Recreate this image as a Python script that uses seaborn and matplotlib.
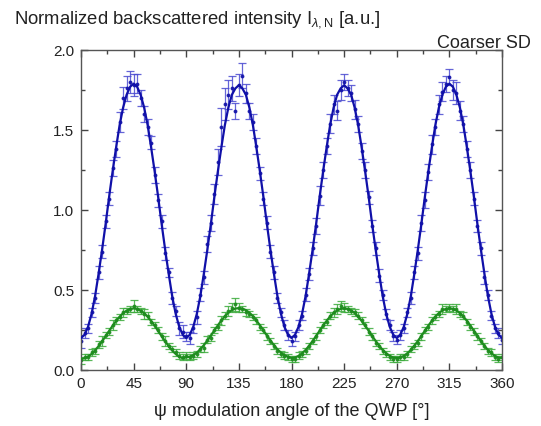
import numpy as np
import matplotlib
matplotlib.use('Agg')
import matplotlib.pyplot as plt
import seaborn as sns
from matplotlib.ticker import MultipleLocator

# angle of the QWP (deg), one point every 3 deg
psi = np.arange(0, 361, 3)

# measured intensity, blue series
blue_val = [0.18,0.23,0.26,0.36,0.45,0.61,0.74,0.93,1.07,1.26,1.38,1.55,1.70,1.76,1.80,1.78,1.79,1.70,1.60,1.52,1.42,1.22,1.06,0.93,0.73,0.61,0.45,0.37,0.26,0.24,
            0.21,0.20,0.26,0.33,0.47,0.58,0.79,0.92,1.10,1.30,1.52,1.66,1.72,1.76,1.62,1.78,1.84,1.73,1.62,1.55,1.40,1.23,1.07,0.92,0.74,0.61,0.45,0.36,0.28,0.22,
            0.18,0.21,0.28,0.34,0.47,0.60,0.76,0.90,1.09,1.25,1.40,1.54,1.66,1.62,1.75,1.80,1.76,1.73,1.63,1.54,1.37,1.25,1.08,0.90,0.76,0.59,0.47,0.35,0.28,0.21,
            0.19,0.22,0.26,0.36,0.45,0.61,0.73,0.92,1.06,1.24,1.41,1.52,1.66,1.74,1.79,1.83,1.75,1.73,1.62,1.54,1.38,1.25,1.07,0.90,0.76,0.58,0.47,0.34,0.26,0.23,
            0.19]
blue_err = [0.04,0.03,0.03,0.03,0.03,0.04,0.04,0.04,0.04,0.05,0.05,0.06,0.07,0.08,0.07,0.07,0.06,0.05,0.05,0.05,0.04,0.05,0.04,0.04,0.04,0.03,0.04,0.03,0.04,0.04,
            0.03,0.04,0.03,0.04,0.04,0.04,0.05,0.05,0.06,0.08,0.12,0.10,0.09,0.08,0.05,0.07,0.08,0.06,0.05,0.05,0.05,0.04,0.04,0.04,0.04,0.04,0.03,0.03,0.03,0.03,
            0.03,0.03,0.03,0.03,0.04,0.04,0.04,0.05,0.06,0.05,0.05,0.06,0.06,0.06,0.06,0.05,0.05,0.05,0.06,0.05,0.05,0.05,0.04,0.04,0.04,0.04,0.03,0.03,0.03,0.03,
            0.03,0.03,0.03,0.03,0.04,0.04,0.04,0.05,0.05,0.05,0.06,0.05,0.06,0.06,0.05,0.05,0.06,0.07,0.06,0.05,0.05,0.05,0.04,0.04,0.04,0.04,0.03,0.03,0.03,0.03,
            0.03]
blue_fit = [0.20,0.22,0.27,0.35,0.46,0.60,0.75,0.91,1.08,1.24,1.39,1.53,1.64,1.72,1.77,1.79,1.77,1.72,1.64,1.53,1.39,1.24,1.08,0.91,0.75,0.60,0.46,0.35,0.27,0.22,
            0.20,0.22,0.27,0.35,0.46,0.60,0.75,0.91,1.08,1.24,1.39,1.53,1.64,1.72,1.76,1.78,1.76,1.72,1.64,1.53,1.39,1.24,1.08,0.91,0.75,0.60,0.46,0.35,0.27,0.22,
            0.20,0.22,0.27,0.35,0.46,0.60,0.75,0.91,1.08,1.24,1.39,1.53,1.64,1.72,1.76,1.78,1.76,1.72,1.64,1.53,1.39,1.24,1.08,0.91,0.75,0.60,0.46,0.35,0.27,0.22,
            0.20,0.22,0.27,0.35,0.46,0.60,0.75,0.91,1.08,1.24,1.39,1.53,1.64,1.72,1.77,1.79,1.77,1.72,1.64,1.53,1.39,1.24,1.08,0.91,0.75,0.60,0.46,0.35,0.27,0.22,
            0.20]

# measured intensity, green series
green_val = [0.06,0.08,0.08,0.11,0.12,0.16,0.18,0.22,0.24,0.28,0.31,0.33,0.36,0.37,0.38,0.40,0.38,0.37,0.35,0.34,0.30,0.28,0.25,0.21,0.18,0.15,0.13,0.11,0.09,0.08,
             0.09,0.08,0.09,0.10,0.13,0.14,0.19,0.20,0.25,0.27,0.31,0.34,0.37,0.39,0.41,0.39,0.38,0.36,0.35,0.33,0.31,0.27,0.25,0.21,0.18,0.15,0.12,0.10,0.09,0.08,
             0.07,0.07,0.09,0.10,0.12,0.15,0.18,0.21,0.25,0.28,0.30,0.34,0.36,0.38,0.40,0.39,0.38,0.37,0.36,0.34,0.31,0.28,0.24,0.21,0.17,0.15,0.12,0.10,0.08,0.07,
             0.07,0.08,0.08,0.10,0.13,0.15,0.17,0.21,0.25,0.27,0.31,0.33,0.35,0.38,0.38,0.39,0.38,0.38,0.35,0.34,0.30,0.27,0.24,0.21,0.18,0.15,0.12,0.11,0.08,0.07,
             0.08]
green_err = [0.02,0.02,0.02,0.02,0.02,0.02,0.03,0.02,0.02,0.03,0.02,0.02,0.03,0.02,0.02,0.04,0.02,0.02,0.03,0.02,0.02,0.02,0.02,0.02,0.03,0.02,0.02,0.02,0.02,0.02,
             0.02,0.02,0.02,0.02,0.02,0.03,0.02,0.02,0.02,0.02,0.03,0.02,0.03,0.03,0.04,0.03,0.02,0.02,0.02,0.02,0.02,0.02,0.02,0.02,0.02,0.02,0.02,0.02,0.02,0.02,
             0.02,0.02,0.02,0.02,0.02,0.02,0.02,0.02,0.02,0.02,0.02,0.02,0.03,0.03,0.03,0.03,0.02,0.02,0.02,0.02,0.02,0.02,0.02,0.02,0.02,0.02,0.02,0.02,0.02,0.02,
             0.02,0.02,0.02,0.02,0.02,0.02,0.02,0.02,0.02,0.02,0.02,0.02,0.02,0.03,0.02,0.02,0.02,0.03,0.02,0.02,0.02,0.02,0.02,0.02,0.02,0.02,0.02,0.02,0.02,0.02,
             0.02]
green_fit = [0.070,0.073,0.084,0.100,0.122,0.149,0.179,0.211,0.244,0.276,0.306,0.333,0.355,0.371,0.382,0.385,0.382,0.371,0.355,0.333,0.306,0.276,0.244,0.211,0.179,0.149,0.122,0.100,0.084,0.073,
             0.080,0.083,0.093,0.108,0.129,0.155,0.184,0.215,0.247,0.279,0.309,0.336,0.358,0.374,0.384,0.387,0.384,0.374,0.358,0.336,0.309,0.279,0.247,0.215,0.184,0.155,0.129,0.108,0.093,0.083,
             0.075,0.078,0.088,0.104,0.125,0.151,0.181,0.212,0.245,0.277,0.307,0.334,0.356,0.372,0.382,0.385,0.382,0.372,0.356,0.334,0.307,0.277,0.245,0.212,0.181,0.151,0.125,0.104,0.088,0.078,
             0.075,0.078,0.088,0.104,0.125,0.151,0.181,0.212,0.245,0.277,0.307,0.334,0.356,0.372,0.382,0.385,0.382,0.372,0.356,0.334,0.307,0.277,0.245,0.212,0.181,0.151,0.125,0.104,0.088,0.078,
             0.075]

xticks = [0, 45, 90, 135, 180, 225, 270, 315, 360]
yticks = [0.0, 0.5, 1.0, 1.5, 2.0]

sns.set_style('ticks')
plt.rcParams['font.family'] = ['Liberation Sans', 'DejaVu Sans']
plt.rcParams['mathtext.fontset'] = 'custom'
plt.rcParams['mathtext.rm'] = 'Liberation Sans'
plt.rcParams['mathtext.it'] = 'Liberation Sans:italic'

fig = plt.figure(figsize=(5.41, 4.27), dpi=100)
ax = fig.add_axes([81/541, 56/427, 421/541, 320/427])

blue_line = '#1010a8'
blue_bar = '#4a4ad0'
green_line = '#1e8c1e'
green_bar = '#3cab3c'

# data with error bars
ax.errorbar(psi, blue_val, yerr=blue_err, fmt='o', ms=1.8, color=blue_line,
            ecolor=blue_bar, elinewidth=0.9, capsize=3, capthick=0.9, alpha=0.85, zorder=2)
ax.errorbar(psi, green_val, yerr=green_err, fmt='o', ms=1.8, color=green_line,
            ecolor=green_bar, elinewidth=0.9, capsize=3, capthick=0.9, alpha=0.85, zorder=2)

# fitted curves
sns.lineplot(x=psi, y=blue_fit, ax=ax, color=blue_line, linewidth=1.6, zorder=3)
sns.lineplot(x=psi, y=green_fit, ax=ax, color=green_line, linewidth=1.6, zorder=3)

ax.set_xlim(0, 360)
ax.set_ylim(0, 2.0)
ax.set_xticks(xticks)
ax.set_yticks(yticks)
ax.set_yticklabels([f'{v:.1f}' for v in yticks])
ax.xaxis.set_minor_locator(MultipleLocator(22.5))
ax.yaxis.set_minor_locator(MultipleLocator(0.25))
ax.tick_params(which='both', direction='in', top=True, right=True, colors='#444444',
               labelcolor='#222222', labelsize=11)
ax.tick_params(which='major', length=5, width=1)
ax.tick_params(which='minor', length=3, width=1)
for s in ax.spines.values():
    s.set_color('#555555')
    s.set_linewidth(1)
ax.tick_params(axis='y', labelleft=True, pad=5)
ax.tick_params(axis='x', labelbottom=True, labeltop=False, pad=4)

ax.set_xlabel('ψ modulation angle of the QWP [°]', fontsize=13, color='#222222', labelpad=9)
ax.set_ylabel('')

fig.text(14/541, 1 - 20/427, r'Normalized backscattered intensity I$_{\lambda,\mathrm{N}}$ [a.u.]',
         fontsize=13.3, color='#222222', va='center', ha='left')
fig.text(531/541, 1 - 48/427, 'Coarser SD', fontsize=13, color='#222222',
         ha='right', va='baseline')

fig.savefig('out.png', dpi=100)
